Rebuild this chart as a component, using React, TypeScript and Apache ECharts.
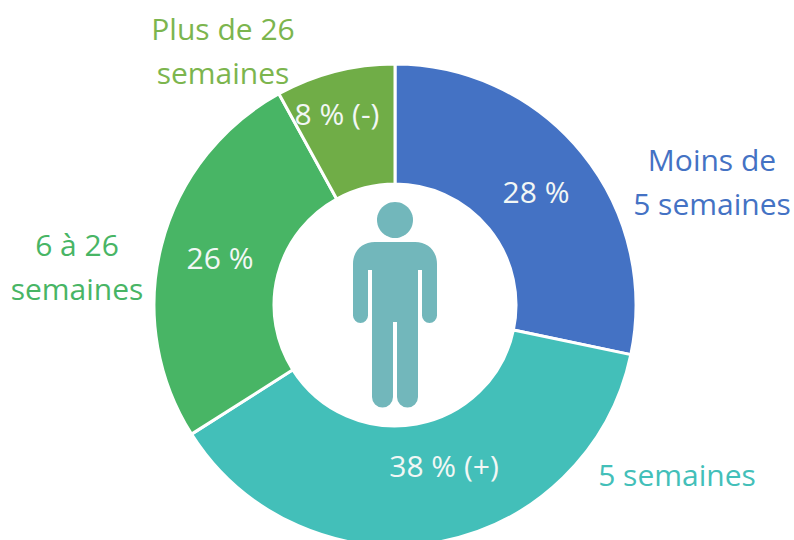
import React, { useEffect, useRef } from "react";
import * as echarts from "echarts";

const categories = ["Moins de\n5 semaines", "5 semaines", "6 à 26\nsemaines", "Plus de 26\nsemaines"];
const values = [28.3, 37.7, 26, 8];
const innerLabels = ["28 %", "38 % (+)", "26 %", "8 % (-)"];
const colors = ["#4472C4", "#43BFB9", "#48B565", "#70AD47"];
const labelColors = ["#4472C4", "#43BFB9", "#48B565", "#7CB54E"];
const labelPositions = [[712, 181], [677, 474], [77, 266], [223, 50]];
const insideLabelPositions = [[536, 191], [444, 465], [220, 257], [337, 113]];

const personPath =
  "M375 242 H415 C428 242 437 251 437 264 V315.5 A7.5 7.5 0 0 1 422 315.5 V270 H418 V397 A10.5 10.5 0 0 1 397 397 V322 H393 V397 A10.5 10.5 0 0 1 372 397 V270 H368 V315.5 A7.5 7.5 0 0 1 353 315.5 V264 C353 251 362 242 375 242 Z";
echarts.graphic.registerShape("person", echarts.graphic.extendPath(personPath, {}) as any);

export default function App() {
  const ref = useRef<HTMLDivElement>(null);
  useEffect(() => {
    const chart = echarts.init(ref.current!, null, { renderer: "svg" });
    chart.setOption({
      animation: false,
      backgroundColor: "#ffffff",
      series: [
        {
          type: "pie",
          center: [395, 305],
          radius: [121, 241],
          startAngle: 90,
          clockwise: true,
          silent: true,
          itemStyle: { borderColor: "#ffffff", borderWidth: 3 },
          label: { show: false },
          labelLine: { show: false },
          data: values.map((v, i) => ({ value: v, name: categories[i], itemStyle: { color: colors[i] } })),
        },
      ],
      graphic: [
        { type: "circle", z: 10, shape: { cx: 395, cy: 220, r: 18 }, style: { fill: "#72B7BB" } },
        { type: "person", z: 10, x: 0, y: 0, style: { fill: "#72B7BB" } },
        ...categories.map((c, i) => ({
          type: "text",
          z: 10,
          x: labelPositions[i][0],
          y: labelPositions[i][1],
          style: { text: c, fill: labelColors[i], fontSize: 30, fontFamily: "Open Sans", lineHeight: 44, align: "center", verticalAlign: "middle" },
        })),
        ...innerLabels.map((c, i) => ({
          type: "text",
          z: 10,
          x: insideLabelPositions[i][0],
          y: insideLabelPositions[i][1],
          style: { text: c, fill: "#F2F7F5", fontSize: 30, fontFamily: "Open Sans", align: "center", verticalAlign: "middle" },
        })),
      ],
    });
    return () => chart.dispose();
  }, []);
  return <div ref={ref} style={{ position: "absolute", left: 0, top: 0, width: 794, height: 540 }} />;
}
